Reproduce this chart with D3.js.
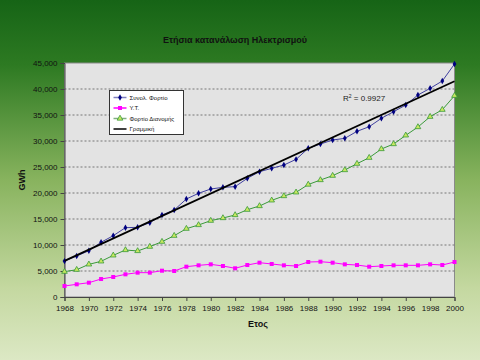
<!DOCTYPE html>
<html><head><meta charset="utf-8">
<script src="https://cdn.jsdelivr.net/npm/d3@7"></script>
<style>html,body{margin:0;padding:0;overflow:hidden}svg{display:block}</style>
</head><body>
<script>
const years = d3.range(1968, 2001);
const total = [6900,7885,8900,10520,11790,13330,13400,14290,15770,16730,18850,19940,20770,21090,21220,22820,24100,24740,25380,26470,28590,29420,30190,30510,31860,32750,34360,35640,36920,38850,40130,41540,44810];
const yt = [2115,2440,2750,3460,3850,4360,4680,4680,5060,5000,5830,6090,6280,5960,5520,6150,6600,6350,6090,5960,6730,6790,6600,6280,6150,5830,5960,6090,6090,6090,6280,6150,6730];
const distrib = [4870,5250,6280,6860,8010,9040,8850,9680,10640,11790,13140,13850,14680,15190,15770,16790,17500,18590,19420,20130,21630,22500,23330,24420,25640,26790,28460,29420,31090,32690,34670,36020,38710];
const trendYears = [1968, 2000];
const trendValues = [6950, 41500];
const yTicks = [0,5000,10000,15000,20000,25000,30000,35000,40000,45000];
const xTicks = d3.range(1968, 2001, 2);
const seriesNames = ["Συνολ. Φορτίο", "Υ.Τ.", "Φορτίο Διανομής", "Γραμμική"];

const W = 480, H = 360;
const svg = d3.select("body").append("svg").attr("width", W).attr("height", H);
const defs = svg.append("defs");
const g1 = defs.append("linearGradient").attr("id","bg").attr("x1",0).attr("y1",0).attr("x2",0).attr("y2",1);
g1.append("stop").attr("offset","0%").attr("stop-color","#166416");
g1.append("stop").attr("offset","18%").attr("stop-color","#2d7a22");
g1.append("stop").attr("offset","50%").attr("stop-color","#88b35e");
g1.append("stop").attr("offset","80%").attr("stop-color","#c4d8a0");
g1.append("stop").attr("offset","100%").attr("stop-color","#dce8c4");
svg.append("rect").attr("width",W).attr("height",H).attr("fill","url(#bg)");

const L = 64.5, R = 454.5, T = 63, B = 297;
const x = d3.scaleLinear().domain([1968, 2000]).range([L, R]);
const y = d3.scaleLinear().domain([0, 45000]).range([B, T]);
const font = "Arial, 'Liberation Sans', sans-serif";

svg.append("text").attr("x", 235).attr("y", 43).attr("text-anchor","middle")
  .attr("font-family", font).attr("font-size", 9).attr("font-weight","bold").attr("fill","#111")
  .text("Ετήσια κατανάλωση Ηλεκτρισμού");

svg.append("rect").attr("x", L).attr("y", T).attr("width", R-L).attr("height", B-T)
  .attr("fill","#e3e3e3").attr("stroke","#8a8a8a").attr("stroke-width",1);

// gridlines
svg.append("g").selectAll("line").data(yTicks.filter(d=>d>0 && d<45000)).join("line")
  .attr("x1", L).attr("x2", R).attr("y1", d=>y(d)).attr("y2", d=>y(d))
  .attr("stroke","#777").attr("stroke-width",1).attr("stroke-dasharray","2,2");

// axes
const yAxis = d3.axisLeft(y).tickValues(yTicks).tickSize(4).tickPadding(3).tickFormat(d3.format(","));
const gy = svg.append("g").attr("transform",`translate(${L},0)`).call(yAxis);
const xAxis = d3.axisBottom(x).tickValues(xTicks).tickSize(4).tickPadding(4).tickFormat(d3.format("d"));
const gx = svg.append("g").attr("transform",`translate(0,${B})`).call(xAxis);
[gy, gx].forEach(g => {
  g.select(".domain").attr("stroke","#444");
  g.selectAll(".tick line").attr("stroke","#444");
  g.selectAll("text").attr("font-family", font).attr("font-size", 8).attr("fill","#111");
});

svg.append("text").attr("x", 258).attr("y", 327).attr("text-anchor","middle")
  .attr("font-family", font).attr("font-size", 9).attr("font-weight","bold").attr("fill","#111").text("Ετος");
svg.append("text").attr("transform","translate(25,180) rotate(-90)").attr("text-anchor","middle")
  .attr("font-family", font).attr("font-size", 9).attr("font-weight","bold").attr("fill","#111").text("GWh");

const line = vals => d3.line().x((d,i)=>x(years[i])).y(d=>y(d))(vals);

// series lines
svg.append("path").attr("d", line(yt)).attr("fill","none").attr("stroke","#ff00ff").attr("stroke-width",1);
svg.append("path").attr("d", line(distrib)).attr("fill","none").attr("stroke","#3a9a3a").attr("stroke-width",1);
svg.append("path").attr("d", line(total)).attr("fill","none").attr("stroke","#4040a0").attr("stroke-width",1);

// markers
svg.append("g").selectAll("rect").data(yt).join("rect")
  .attr("x",(d,i)=>x(years[i])-2).attr("y",d=>y(d)-2).attr("width",4).attr("height",4).attr("fill","#ff00ff");
const tri = d3.symbol().type(d3.symbolTriangle).size(14);
svg.append("g").selectAll("path").data(distrib).join("path")
  .attr("d", tri).attr("transform",(d,i)=>`translate(${x(years[i])},${y(d)})`)
  .attr("fill","#c8e860").attr("stroke","#3a9a3a").attr("stroke-width",0.8);
const dia = d3.symbol().type(d3.symbolDiamond).size(12);
svg.append("g").selectAll("path").data(total).join("path")
  .attr("d", dia).attr("transform",(d,i)=>`translate(${x(years[i])},${y(d)})`).attr("fill","#000080");

// trend
svg.append("path").attr("d", d3.line().x((d,i)=>x(trendYears[i])).y(d=>y(d))(trendValues))
  .attr("fill","none").attr("stroke","#000").attr("stroke-width",1.8);

// R²
const rt = svg.append("text").attr("x", 343).attr("y", 101).attr("font-family", font).attr("font-size", 8).attr("fill","#222");
rt.append("tspan").text("R");
rt.append("tspan").attr("dy",-3).attr("font-size",5).text("2");
rt.append("tspan").attr("dy",3).text(" = 0.9927");

// legend
const lg = svg.append("g").attr("transform","translate(109.5,90.5)");
lg.append("rect").attr("width",74).attr("height",44).attr("fill","#fff").attr("stroke","#333").attr("stroke-width",1);
const ly = [7, 17.5, 28, 38.5];
const lcol = ["#8080c0","#ff00ff","#80b080","#000"];
seriesNames.forEach((n,i) => {
  lg.append("line").attr("x1",4).attr("x2",17).attr("y1",ly[i]).attr("y2",ly[i])
    .attr("stroke", lcol[i]).attr("stroke-width", i===3?1.5:1.5);
  lg.append("text").attr("x",20).attr("y",ly[i]+2.3).attr("font-family",font).attr("font-size",6).attr("fill","#111").text(n);
});
lg.append("path").attr("d", dia).attr("transform",`translate(10.5,${ly[0]})`).attr("fill","#000080");
lg.append("rect").attr("x",8.5).attr("y",ly[1]-2).attr("width",4).attr("height",4).attr("fill","#ff00ff");
lg.append("path").attr("d", tri).attr("transform",`translate(10.5,${ly[2]})`).attr("fill","#c8e860").attr("stroke","#3a9a3a").attr("stroke-width",0.8);
</script>
</body></html>
